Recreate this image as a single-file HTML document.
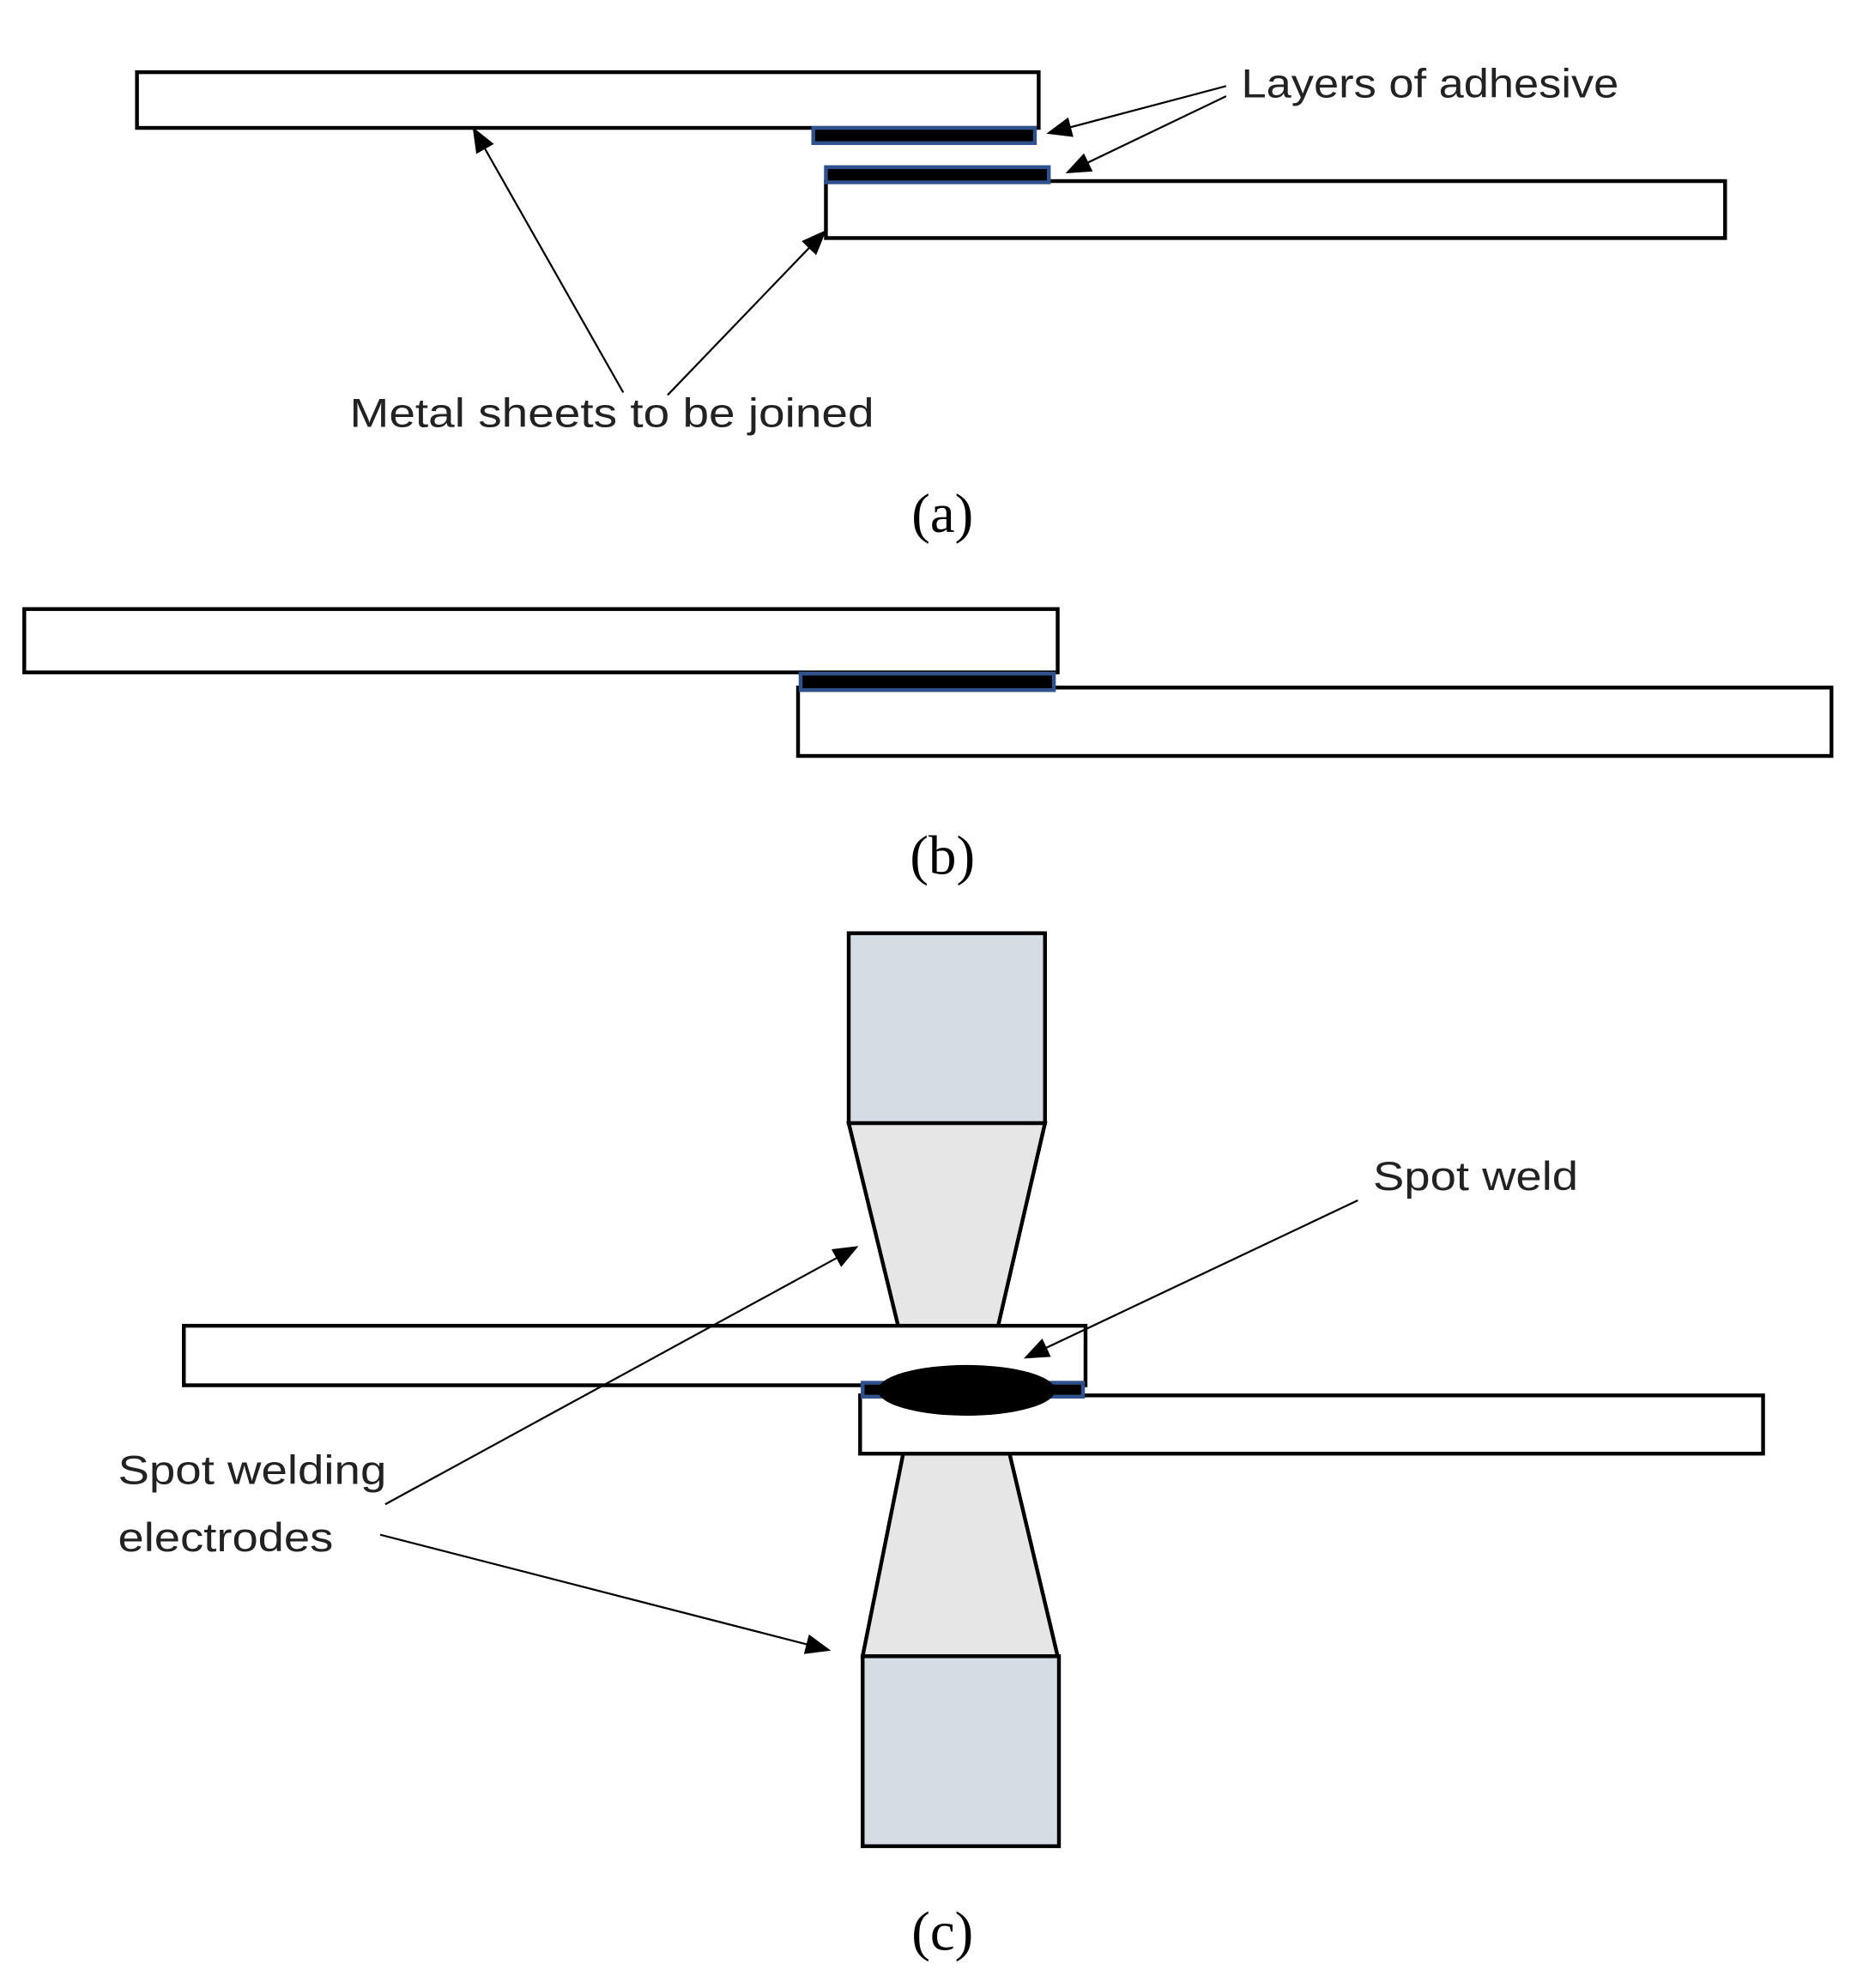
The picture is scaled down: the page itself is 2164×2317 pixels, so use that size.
<!DOCTYPE html>
<html><head><style>html,body{margin:0;padding:0;background:#fff}svg{display:block}</style></head>
<body>
<svg width="2164" height="2317" viewBox="0 0 1466 1570" xmlns="http://www.w3.org/2000/svg">
<defs>
<marker id="ah2" viewBox="0 0 10 8" markerWidth="20" markerHeight="16" refX="9" refY="4" orient="auto" markerUnits="userSpaceOnUse"><path d="M0,0 L10,4 L0,8 Z" fill="#000"/></marker></defs>
<g fill="#fff" stroke="#000" stroke-width="3">
<rect x="108" y="57" width="712" height="44"/>
<rect x="652" y="143" width="710" height="45"/>
<rect x="19" y="481" width="816" height="50"/>
<rect x="630" y="543" width="816" height="54"/>
</g>
<g fill="#000" stroke="#2f528f" stroke-width="3">
<rect x="642" y="101" width="175" height="12"/>
<rect x="652" y="132" width="176" height="12"/>
<rect x="632" y="532" width="200" height="13"/>
</g>
<g stroke="#000" stroke-width="3">
<rect x="670" y="737" width="155" height="150" fill="#d6dce4"/>
<polygon points="670,887 825,887 788,1047 709,1047" fill="#e6e6e6"/>
<polygon points="713,1148 797,1148 835,1308 681,1308" fill="#e6e6e6"/>
<rect x="681" y="1308" width="155" height="150" fill="#d6dce4"/>
<rect x="145" y="1047" width="712" height="47" fill="#fff"/>
<rect x="679" y="1102" width="713" height="46" fill="#fff"/>
</g>
<rect x="681" y="1092" width="174" height="11" fill="#000" stroke="#2f528f" stroke-width="3"/>
<ellipse cx="763" cy="1098" rx="70" ry="20" fill="#000"/>
<g font-family="Liberation Sans, sans-serif" font-size="32" fill="#222" lengthAdjust="spacingAndGlyphs">
<text x="980" y="77" textLength="298" lengthAdjust="spacingAndGlyphs">Layers of adhesive</text>
<text x="276" y="337" textLength="414" lengthAdjust="spacingAndGlyphs">Metal sheets to be joined</text>
<text x="1084" y="940" textLength="162" lengthAdjust="spacingAndGlyphs">Spot weld</text>
<text x="93" y="1172" textLength="212" lengthAdjust="spacingAndGlyphs">Spot welding</text>
<text x="93" y="1225" textLength="170" lengthAdjust="spacingAndGlyphs">electrodes</text>
</g>
<g font-family="Liberation Serif, serif" font-size="44" text-anchor="middle">
<text x="744" y="420">(a)</text><text x="744" y="690">(b)</text><text x="744" y="1540">(c)</text>
</g>
<g stroke="#000" stroke-width="1.5" fill="none" marker-end="url(#ah2)">
<line x1="968" y1="68" x2="828" y2="105"/>
<line x1="968" y1="76" x2="843" y2="136"/>
<line x1="492" y1="310" x2="374" y2="102"/>
<line x1="527" y1="312" x2="651" y2="183"/>
<line x1="1072" y1="948" x2="810" y2="1072"/>
<line x1="304" y1="1188" x2="676" y2="985"/>
<line x1="300" y1="1212" x2="654" y2="1303"/>
</g>
</svg>
</body></html>
